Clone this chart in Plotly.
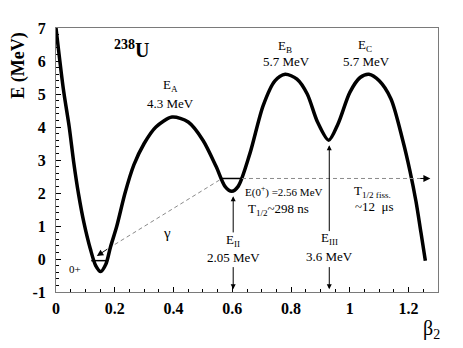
import plotly.graph_objects as go

# potential energy curve of 238U
beta = [0.0, 0.025, 0.045, 0.06, 0.077, 0.095, 0.117, 0.135, 0.152, 0.17, 0.185,
        0.207, 0.235, 0.265, 0.3, 0.34, 0.395, 0.45, 0.5, 0.545, 0.575, 0.598,
        0.62, 0.66, 0.705, 0.745, 0.78, 0.82, 0.855, 0.89, 0.928, 0.96, 1.0,
        1.035, 1.065, 1.1, 1.14, 1.18, 1.205, 1.225, 1.242, 1.257]
energy = [7.0, 5.15, 4.0, 2.95, 1.95, 1.1, 0.3, -0.2, -0.38, -0.15, 0.35,
          1.0, 2.0, 2.85, 3.5, 4.0, 4.3, 4.15, 3.6, 2.8, 2.2, 2.05,
          2.2, 3.2, 4.65, 5.4, 5.6, 5.45, 5.0, 4.15, 3.6, 4.1, 5.05,
          5.5, 5.6, 5.4, 4.85, 3.6, 2.65, 1.75, 0.8, -0.05]

ground_level = [0.12, 0.175]      # 0+ ground state, E ~ 0
ground_e = -0.05
iso_level = [0.565, 0.633]        # shape isomer, E ~ 2.44
iso_e = 2.44
gamma_x = [0.2, 0.565]
gamma_y = [0.44, 2.44]
fiss_x = [0.633, 1.245]

x_ticks = [0, 0.2, 0.4, 0.6, 0.8, 1.0, 1.2]
x_labels = ["0", "0.2", "0.4", "0.6", "0.8", "1", "1.2"]
y_ticks = [-1, 0, 1, 2, 3, 4, 5, 6, 7]

SERIF = "Liberation Serif"
FRAME = "#7a7a7a"
DASH = "#8a8a8a"

fig = go.Figure()
fig.add_trace(go.Scatter(x=beta, y=energy, mode="lines",
                         line=dict(color="black", width=3.5, shape="spline", smoothing=0.8)))
fig.add_trace(go.Scatter(x=ground_level, y=[ground_e] * 2, mode="lines",
                         line=dict(color="black", width=1.5)))
fig.add_trace(go.Scatter(x=iso_level, y=[iso_e] * 2, mode="lines",
                         line=dict(color="black", width=1.5)))
fig.add_trace(go.Scatter(x=gamma_x, y=gamma_y, mode="lines",
                         line=dict(color=DASH, width=1, dash="4px,3px")))
fig.add_trace(go.Scatter(x=fiss_x, y=[iso_e] * 2, mode="lines",
                         line=dict(color=DASH, width=1, dash="4px,3px")))


def arrow(x, y, ax, ay, size=1.0, color="black"):
    fig.add_annotation(x=x, y=y, ax=ax, ay=ay, xref="x", yref="y", axref="x", ayref="y",
                       showarrow=True, arrowhead=2, arrowsize=size, arrowwidth=1,
                       arrowcolor=color, standoff=0, startstandoff=0, text="")


arrow(0.603, 1.9, 0.603, 0.76)
arrow(0.603, -0.92, 0.603, -0.2)
arrow(0.93, 3.45, 0.93, 0.8)
arrow(0.93, -0.92, 0.93, -0.2)
arrow(0.139, 0.09, 0.18, 0.33, size=1.3)
arrow(1.274, iso_e, 1.235, iso_e, size=1.4)


def label(x, y, text, size=13, anchor="center", bold=False):
    fig.add_annotation(x=x, y=y, xref="x", yref="y", text=f"<b>{text}</b>" if bold else text,
                       showarrow=False, xanchor=anchor, yanchor="middle",
                       font=dict(family=SERIF, size=size, color="black"))


label(0.19, 6.35, "<sup>238</sup>U", size=20, anchor="left", bold=True)
label(0.39, 5.25, "E<sub>A</sub>")
label(0.39, 4.7, "4.3 MeV")
label(0.78, 6.45, "E<sub>B</sub>")
label(0.785, 6.0, "5.7 MeV")
label(1.05, 6.47, "E<sub>C</sub>")
label(1.057, 6.0, "5.7 MeV")
label(0.635, 2.05, "E(0<sup>+</sup>) =2.56 MeV", size=11, anchor="left")
label(0.645, 1.5, "T<sub>1/2</sub>~298 ns", size=13, anchor="left")
label(1.007, 2.06, "T<sub>1/2 fiss.</sub>", size=13, anchor="left")
label(1.012, 1.58, "~12  μs", size=13, anchor="left")
label(0.378, 0.78, "γ", size=15)
label(0.065, -0.3, "0+", size=11)
label(0.603, 0.56, "E<sub>II</sub>")
label(0.603, 0.06, "2.05 MeV")
label(0.93, 0.62, "E<sub>III</sub>")
label(0.93, 0.07, "3.6 MeV")

fig.add_annotation(x=-0.097, y=0.857, xref="paper", yref="paper", text="<b>E (MeV)</b>",
                   textangle=-90, showarrow=False, xanchor="center", yanchor="middle",
                   font=dict(family=SERIF, size=18, color="black"))
fig.add_annotation(x=0.982, y=-0.141, xref="paper", yref="paper", text="β<sub>2</sub>",
                   showarrow=False, xanchor="center", yanchor="middle",
                   font=dict(family=SERIF, size=20, color="black"))

axis_common = dict(showline=True, mirror=True, linecolor=FRAME, linewidth=1,
                   showgrid=False, zeroline=False, ticks="inside", tickcolor="black",
                   tickfont=dict(family=SERIF, size=16, color="black"), tickwidth=1)
fig.update_xaxes(range=[0, 1.3], tickvals=x_ticks, ticktext=[f"<b>{t}</b>" for t in x_labels],
                 ticklen=5, ticklabelstandoff=2,
                 minor=dict(dtick=0.05, ticklen=3, ticks="inside", tickcolor="black"),
                 **axis_common)
fig.update_yaxes(range=[-1, 7], tickvals=y_ticks, ticktext=[f"<b>{t}</b>" for t in y_ticks],
                 ticklen=5, ticklabelstandoff=6,
                 minor=dict(dtick=0.2, ticklen=3, ticks="inside", tickcolor="black"),
                 **axis_common)
# the page body adds an 8px margin, so the figure is drawn 8px smaller and offset
fig.update_layout(width=455, height=340, showlegend=False,
                  margin=dict(l=48, r=25, t=15, b=56),
                  plot_bgcolor="white", paper_bgcolor="white")
fig.write_html("out.html")
